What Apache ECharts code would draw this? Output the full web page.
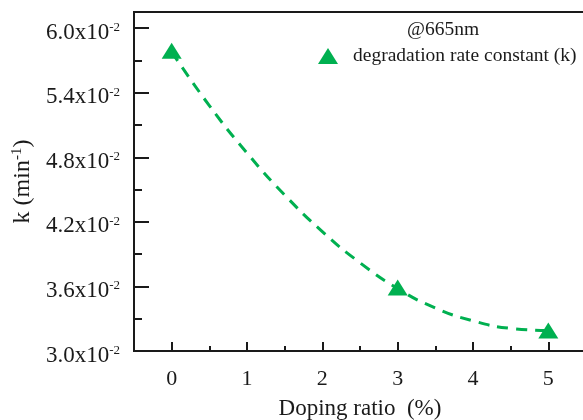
<!DOCTYPE html>
<html>
<head>
<meta charset="utf-8">
<script src="https://cdn.jsdelivr.net/npm/echarts@6/dist/echarts.min.js"></script>
<style>
  html, body { margin: 0; padding: 0; background: #fff; }
  #chart { width: 583px; height: 420px; }
</style>
</head>
<body>
<div id="chart"></div>
<script>
/************************** data **************************/
var dopingRatio = [0, 3, 5];
var rateK = [0.0579, 0.0359, 0.0319];

// dashed fit line
var fitX = [0, 0.5, 1, 1.5, 2, 2.5, 3, 3.5, 4, 4.5, 5];
var fitK = [0.0578, 0.0528, 0.0484, 0.0445, 0.0411, 0.0382, 0.0358, 0.0340, 0.0328, 0.0321, 0.0319];

var xMajorTicks = [0, 1, 2, 3, 4, 5];
var xMinorTicks = [0.5, 1.5, 2.5, 3.5, 4.5];
var yMajorTicks = [0.030, 0.036, 0.042, 0.048, 0.054, 0.060];
var yMinorTicks = [0.033, 0.039, 0.045, 0.051, 0.057];

var green = '#00b050';
var ink = '#1a1a1a';
var serif = 'Liberation Serif';

chartDom = document.getElementById('chart');
myChart = echarts.init(chartDom);

function pairs(xs, ys) {
    return xs.map(function (x, i) { return [x, ys[i]]; });
}

function yLabel(v) {
    return '{a|' + (v * 100).toFixed(1) + 'x10}{s|-2}';
}

var tickRich = {
    a: { fontFamily: serif, fontSize: 23, color: ink, verticalAlign: 'bottom', lineHeight: 26 },
    s: { fontFamily: serif, fontSize: 13, color: ink, verticalAlign: 'bottom', lineHeight: 26, padding: [0, 0, 10, 0] }
};
var nameRich = {
    a: { fontFamily: serif, fontSize: 24, color: ink, verticalAlign: 'bottom', lineHeight: 28 },
    s: { fontFamily: serif, fontSize: 15, color: ink, verticalAlign: 'bottom', lineHeight: 28, padding: [0, 0, 10, 0] }
};

option = {
    animation: false,
    backgroundColor: '#fff',
    textStyle: { fontFamily: serif, color: ink },
    grid: {
        left: 134, right: -3, top: 12, bottom: 69,
        outerBoundsMode: 'none',
        containLabel: false,
        show: true, borderColor: ink, borderWidth: 2
    },
    legend: {
        data: ['degradation rate constant (k)'],
        left: 313, top: 41,
        icon: 'triangle',
        itemWidth: 20, itemHeight: 16,
        textStyle: { fontFamily: serif, fontSize: 19.5, color: ink, padding: [0, 0, 0, 10] }
    },
    graphic: [{
        type: 'text',
        left: 407, top: 20,
        style: { text: '@665nm', font: '19.5px "Liberation Serif"', fill: ink }
    }],
    xAxis: [{
        type: 'value', min: -0.5, max: 5.5, position: 'bottom',
        name: 'Doping ratio  (%)', nameLocation: 'middle', nameGap: 46,
        nameTextStyle: { fontFamily: serif, fontSize: 23, color: ink },
        axisLine: { onZero: false, lineStyle: { color: ink, width: 2 } },
        axisTick: { inside: true, length: 9, customValues: xMajorTicks, lineStyle: { color: ink, width: 2 } },
        axisLabel: { customValues: xMajorTicks, margin: 17, fontFamily: serif, fontSize: 22, color: ink },
        splitLine: { show: false }
    }, {
        type: 'value', min: -0.5, max: 5.5, position: 'bottom',
        axisLine: { show: false, onZero: false },
        axisTick: { inside: true, length: 5, customValues: xMinorTicks, lineStyle: { color: ink, width: 2 } },
        axisLabel: { show: false },
        splitLine: { show: false }
    }],
    yAxis: [{
        type: 'value', min: 0.03, max: 0.0615, position: 'left',
        name: '{a|k (min}{s|-1}{a|)}', nameLocation: 'middle', nameGap: 96, nameRotate: 90,
        nameTextStyle: { rich: nameRich },
        axisLine: { onZero: false, lineStyle: { color: ink, width: 2 } },
        axisTick: { inside: true, length: 15, customValues: yMajorTicks, lineStyle: { color: ink, width: 2 } },
        axisLabel: { customValues: yMajorTicks, margin: 14, formatter: yLabel, rich: tickRich, padding: [6, 0, 0, 0] },
        splitLine: { show: false }
    }, {
        type: 'value', min: 0.03, max: 0.0615, position: 'left',
        axisLine: { show: false, onZero: false },
        axisTick: { inside: true, length: 8, customValues: yMinorTicks, lineStyle: { color: ink, width: 2 } },
        axisLabel: { show: false },
        splitLine: { show: false }
    }],
    series: [{
        name: 'fit',
        type: 'line',
        data: pairs(fitX, fitK),
        smooth: true,
        showSymbol: false,
        lineStyle: { color: green, width: 3, type: [11, 8] },
        z: 1
    }, {
        name: 'degradation rate constant (k)',
        type: 'scatter',
        data: pairs(dopingRatio, rateK),
        symbol: 'triangle',
        symbolSize: [20, 16],
        itemStyle: { color: green, opacity: 1 },
        z: 3
    }]
};

myChart.setOption(option);
</script>
</body>
</html>
